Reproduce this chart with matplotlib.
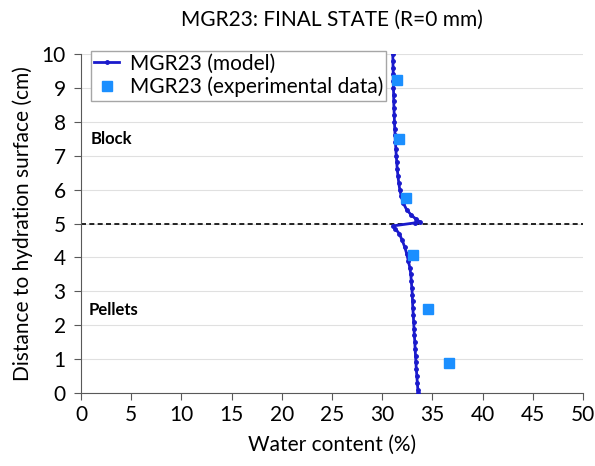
import matplotlib.pyplot as plt

plt.rcParams['font.family'] = ['Lato', 'DejaVu Sans']

# model profile: depth (cm) and water content (%)
model_depth = [10.0, 9.8, 9.6, 9.4, 9.2, 9.0, 8.8, 8.6, 8.4, 8.2, 8.0, 7.8, 7.6, 7.4,
               7.2, 7.0, 6.8, 6.6, 6.4, 6.2, 6.0, 5.8, 5.6, 5.4, 5.25, 5.12, 5.05,
               5.02, 4.93, 4.85, 4.7, 4.5, 4.3, 4.1, 3.9, 3.7, 3.5, 3.3, 3.1, 2.9,
               2.7, 2.5, 2.3, 2.1, 1.9, 1.7, 1.5, 1.3, 1.1, 0.9, 0.7, 0.5, 0.3, 0.1, 0.0]
model_wc = [31.05, 31.07, 31.08, 31.1, 31.1, 31.12, 31.14, 31.15, 31.17, 31.2, 31.22,
            31.25, 31.28, 31.32, 31.36, 31.4, 31.45, 31.5, 31.57, 31.65, 31.75, 31.9,
            32.1, 32.45, 32.9, 33.4, 33.75, 33.3, 31.1, 31.3, 31.7, 32.0, 32.25, 32.45,
            32.6, 32.75, 32.85, 32.9, 32.95, 33.0, 33.02, 33.05, 33.1, 33.13, 33.17,
            33.2, 33.25, 33.28, 33.32, 33.36, 33.4, 33.45, 33.5, 33.55, 33.6]

# experimental points
exp_depth = [9.23, 7.48, 5.74, 4.07, 2.47, 0.88]
exp_wc = [31.5, 31.7, 32.4, 33.1, 34.6, 36.7]

fig = plt.figure(figsize=(5.95, 4.66), dpi=100)
ax = fig.add_axes([81 / 595, 1 - 393 / 466, 502 / 595, 339 / 466])

ax.plot(model_wc, model_depth, color='#1a1acc', lw=2, marker='o', ms=2.5,
        label='MGR23 (model)', zorder=3)
ax.plot(exp_wc, exp_depth, ls='none', marker='s', ms=7, color='#1b8fff',
        label='MGR23 (experimental data)', zorder=4)
ax.axhline(5, color='black', ls=(0, (3, 2)), lw=1.2, zorder=2)

ax.set_xlim(0, 50)
ax.set_ylim(0, 10)
ax.set_xticks(range(0, 51, 5))
ax.set_yticks(range(0, 11))
ax.grid(axis='y', color='#e0e0e0', lw=0.8)
ax.set_axisbelow(True)
for s in ['top', 'right']:
    ax.spines[s].set_visible(False)
ax.spines['left'].set_color('#595959')
ax.spines['bottom'].set_color('#595959')
ax.tick_params(axis='y', direction='out', length=5, color='#595959', labelsize=15, pad=6)
ax.tick_params(axis='x', direction='out', length=5, color='#595959', labelsize=15)

ax.text(1.0, 7.5, 'Block', fontsize=12, fontweight='bold', va='center')
ax.text(0.8, 2.45, 'Pellets', fontsize=12, fontweight='bold', va='center')

ax.set_xlabel('Water content (%)', fontsize=15, labelpad=7)
ax.set_ylabel('Distance to hydration surface (cm)', fontsize=15, labelpad=6)
ax.set_title('MGR23: FINAL STATE (R=0 mm)', fontsize=15, pad=20)

ax.legend(loc='upper left', bbox_to_anchor=(0.02, 1.01), fontsize=15, frameon=True,
          fancybox=False, edgecolor='#a6a6a6', handlelength=1.2, handletextpad=0.5,
          borderpad=0.15, labelspacing=0.15, framealpha=1, borderaxespad=0)

fig.savefig('out.png', dpi=100)
